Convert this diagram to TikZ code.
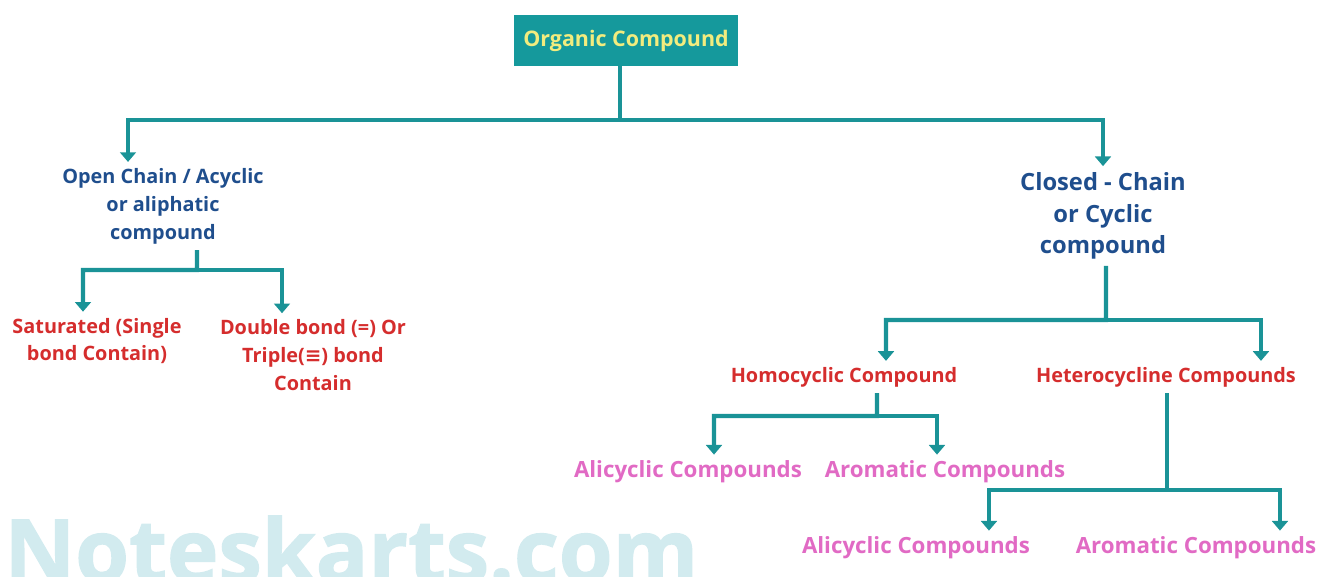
\documentclass[tikz,border=0pt]{standalone}
\usepackage{fontspec}
\setmainfont{Open Sans}
\newfontfamily\symfont{DejaVu Sans}
\newfontfamily\wmfont{Open Sans}[BoldFeatures={FakeBold=1.5}]
\usetikzlibrary{positioning}
\usetikzlibrary{arrows.meta}
\definecolor{lineteal}{HTML}{1A9397}
\definecolor{boxteal}{HTML}{15999C}
\definecolor{titleyel}{HTML}{F2EC7E}
\definecolor{darkblue}{HTML}{1F4E8D}
\definecolor{textred}{HTML}{D52D2D}
\definecolor{textpink}{HTML}{E16AC4}
\definecolor{wmteal}{HTML}{D2EBEF}
\tikzset{
  conn/.style={draw=lineteal, line width=2.3pt},
  arr/.style={conn, -{Triangle[width=9pt,length=5.5pt]}},
  rootbox/.style={fill=boxteal, text=titleyel, font=\bfseries\fontsize{12.2}{15}\selectfont,
    minimum width=4.5cm, minimum height=1.02cm},
  bluetxt/.style={text=darkblue, align=center, font=\bfseries\fontsize{11.3}{15.9}\selectfont},
  bluebig/.style={text=darkblue, align=center, font=\bfseries\fontsize{13.5}{18.1}\selectfont},
  redtxt/.style={text=textred, align=center, font=\bfseries\fontsize{11.3}{15.9}\selectfont},
  pinktxt/.style={text=textpink, align=center, font=\bfseries\fontsize{12.7}{16}\selectfont},
  wmark/.style={text=wmteal, inner sep=0pt, font=\wmfont\bfseries\fontsize{49.6}{58}\selectfont}
}

\begin{document}
\begin{tikzpicture}[x=0.02cm,y=-0.02cm]
\useasboundingbox (0,0) rectangle (1319,577);
\clip (0,0) rectangle (1319,577);
\node[wmark, anchor=base west] (wm) at (4,582) {Noteskarts.com};

\node[rootbox] (root) at (626,40.5) {Organic Compound};
\node[bluetxt] (open) at (163,206) {Open Chain / Acyclic\\or aliphatic\\compound};
\node[bluebig] (closed) at (1103,216) {Closed - Chain\\or Cyclic\\compound};
\node[redtxt] (sat) at (97,341) {Saturated (Single\\bond Contain)};
\node[redtxt] (dbl) at (313,355) {Double bond (=) Or\\Triple({\symfont ≡}) bond\\Contain};
\node[redtxt] (homo) at (844,377) {Homocyclic Compound};
\node[redtxt] (hetero) at (1166,377) {Heterocycline Compounds};
\node[pinktxt] (ali1) at (688,472) {Alicyclic Compounds};
\node[pinktxt] (aro1) at (945,472) {Aromatic Compounds};
\node[pinktxt] (ali2) at (916,548) {Alicyclic Compounds};
\node[pinktxt] (aro2) at (1196,548) {Aromatic Compounds};

\coordinate (b1) at (620,120);
\coordinate (b2) at (197,270);
\coordinate (b3) at (1106,320);
\coordinate (b4) at (877,416);
\coordinate (b5) at (1167,490);

\draw[arr] (root.south -| b1) -- (b1) -| ([xshift=-0.7cm]open.north);
\draw[arr] (b1) -| (closed.north);
\draw[arr] ([xshift=0.68cm]open.south) -- (b2) -| ([xshift=-0.28cm]sat.north);
\draw[arr] (b2) -| ([xshift=-0.62cm]dbl.north);
\draw[arr] ([xshift=0.06cm]closed.south) -- (b3) -| ([xshift=0.84cm]homo.north);
\draw[arr] (b3) -| ([xshift=1.9cm]hetero.north);
\draw[arr] ([xshift=0.66cm]homo.south) -- (b4) -| ([xshift=0.52cm]ali1.north);
\draw[arr] (b4) -| ([xshift=-0.16cm]aro1.north);
\draw[arr] (hetero.south -| b5) -- (b5) -| ([xshift=1.46cm]ali2.north);
\draw[arr] (b5) -| ([xshift=1.68cm]aro2.north);
\end{tikzpicture}
\end{document}
